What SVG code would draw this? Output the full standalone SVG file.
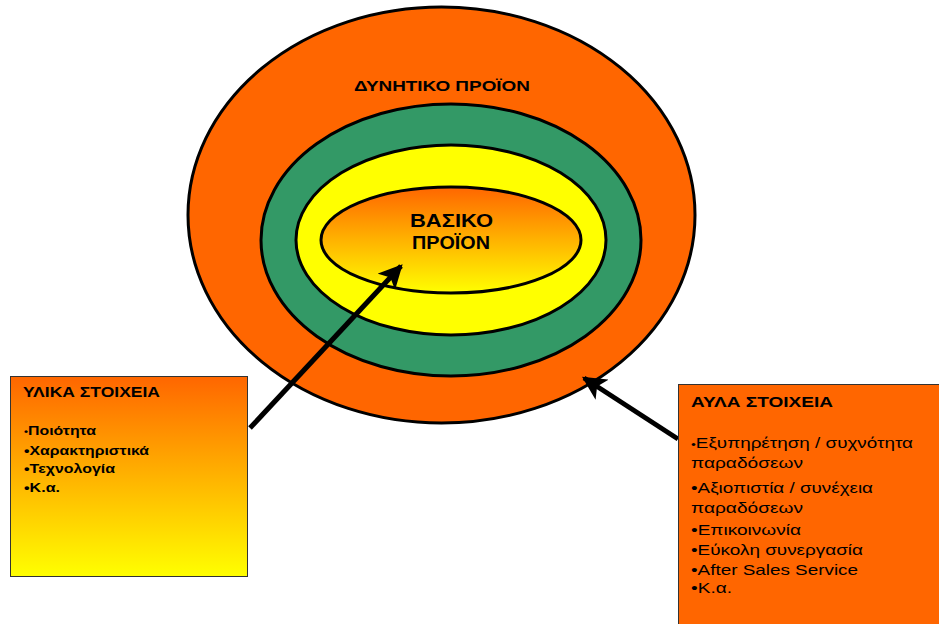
<svg xmlns="http://www.w3.org/2000/svg" width="939" height="624" viewBox="0 0 939 624">
<defs>
<linearGradient id="gIn" x1="0" y1="0" x2="0" y2="1">
<stop offset="0" stop-color="#FF6600"/>
<stop offset="1" stop-color="#FFFF00"/>
</linearGradient>
<linearGradient id="gBox" x1="0" y1="0" x2="0" y2="1">
<stop offset="0" stop-color="#FF6600"/>
<stop offset="1" stop-color="#FFFF00"/>
</linearGradient>
<marker id="ah" viewBox="0 0 10 10" refX="9" refY="5" markerWidth="4.8" markerHeight="4.8" orient="auto" markerUnits="strokeWidth">
<path d="M0,0 L10,5 L0,10 L2.5,5 Z" fill="#000"/>
</marker>
<style>
.ring{stroke:#000;stroke-width:3}
.t{font-family:"Liberation Sans",Arial,sans-serif;fill:#000}
.b{font-weight:bold}
.box{stroke:#333;stroke-width:1}
.arr{stroke:#000;stroke-width:5;fill:none;marker-end:url(#ah)}
.sb{font-size:9px}
</style>
</defs>
<g id="outer">
<ellipse class="ring" cx="441.5" cy="215" rx="253.5" ry="208" fill="#FF6600"/>
<text class="t b" x="354" y="91" font-size="15.5" textLength="176" lengthAdjust="spacingAndGlyphs">ΔΥΝΗΤΙΚΟ ΠΡΟΪΟΝ</text>
</g>
<g id="green">
<ellipse class="ring" cx="451" cy="240" rx="190" ry="136" fill="#339966"/>
</g>
<g id="yellow">
<ellipse class="ring" cx="451" cy="240" rx="155" ry="95" fill="#FFFF00"/>
</g>
<g id="core">
<ellipse class="ring" cx="451" cy="240" rx="130" ry="53" fill="url(#gIn)"/>
<text class="t b" x="410" y="227" font-size="17.5" textLength="83" lengthAdjust="spacingAndGlyphs">ΒΑΣΙΚΟ</text>
<text class="t b" x="412" y="249" font-size="17.5" textLength="78" lengthAdjust="spacingAndGlyphs">ΠΡΟΪΟΝ</text>
</g>
<g id="connectors">
<line class="arr" x1="250" y1="428" x2="401" y2="266"/>
<line class="arr" x1="678" y1="439" x2="584" y2="378"/>
</g>
<g id="material">
<rect class="box" x="10.5" y="376.5" width="237" height="200" fill="url(#gBox)"/>
<text class="t b" x="23" y="397" font-size="14" textLength="137" lengthAdjust="spacingAndGlyphs">ΥΛΙΚΑ ΣΤΟΙΧΕΙΑ</text>
<text class="t b" x="24" y="435" font-size="12.5" textLength="72" lengthAdjust="spacingAndGlyphs"><tspan class="sb">•</tspan>Ποιότητα</text>
<text class="t b" x="24" y="455" font-size="12.5" textLength="125" lengthAdjust="spacingAndGlyphs">•Χαρακτηριστικά</text>
<text class="t b" x="24" y="473" font-size="12.5" textLength="91" lengthAdjust="spacingAndGlyphs">•Τεχνολογία</text>
<text class="t b" x="24" y="492" font-size="12.5" textLength="36" lengthAdjust="spacingAndGlyphs">•Κ.α.</text>
</g>
<g id="immaterial">
<rect class="box" x="678.5" y="384.5" width="265" height="245" fill="#FF6600"/>
<text class="t b" x="691" y="407" font-size="14" textLength="142" lengthAdjust="spacingAndGlyphs">ΑΥΛΑ ΣΤΟΙΧΕΙΑ</text>
<text class="t" x="691" y="448" font-size="15" textLength="222" lengthAdjust="spacingAndGlyphs"><tspan class="sb" style="font-size:11px">•</tspan>Εξυπηρέτηση / συχνότητα</text>
<text class="t" x="691" y="468" font-size="15" textLength="112" lengthAdjust="spacingAndGlyphs">παραδόσεων</text>
<text class="t" x="691" y="493" font-size="15" textLength="182" lengthAdjust="spacingAndGlyphs">•Αξιοπιστία / συνέχεια</text>
<text class="t" x="691" y="513" font-size="15" textLength="112" lengthAdjust="spacingAndGlyphs">παραδόσεων</text>
<text class="t" x="691" y="535" font-size="15" textLength="110" lengthAdjust="spacingAndGlyphs">•Επικοινωνία</text>
<text class="t" x="691" y="555" font-size="15" textLength="172" lengthAdjust="spacingAndGlyphs">•Εύκολη συνεργασία</text>
<text class="t" x="691" y="575" font-size="15" textLength="167" lengthAdjust="spacingAndGlyphs">•After Sales Service</text>
<text class="t" x="691" y="593" font-size="15" textLength="41" lengthAdjust="spacingAndGlyphs">•Κ.α.</text>
</g>
</svg>
